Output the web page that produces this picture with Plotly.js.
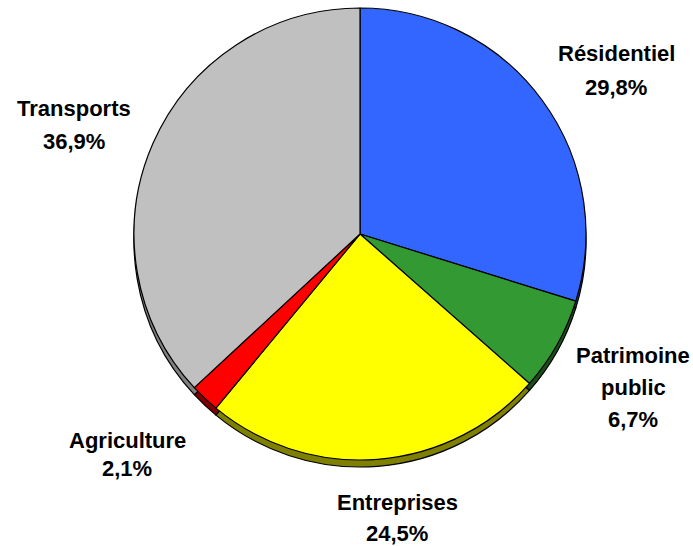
<!DOCTYPE html>
<html>
<head>
<meta charset="utf-8">
<script src="https://cdn.plot.ly/plotly-3.0.1.min.js"></script>
<style>html,body{margin:0;padding:0;background:#fff;}#chart{width:693px;height:546px;}</style>
</head>
<body>
<div id="chart"></div>
<script>
// Data
const categories = ["Résidentiel", "Patrimoine public", "Entreprises", "Agriculture", "Transports"];
const shares = [29.8, 6.7, 24.5, 2.1, 36.9];

// Styles
const faceColors = ["#3366FF", "#339933", "#FFFF00", "#FF0000", "#C0C0C0"];
const sideColors = ["#1A3380", "#1A4D1A", "#808000", "#800000", "#808080"];
// label placement (pixel centre x, cap-centre y of each line)
const labelPlacement = [
  {x: 616, ys: [54, 88]},
  {x: 633, ys: [355, 387, 419]},
  {x: 397, ys: [502, 533]},
  {x: 127, ys: [440, 469]},
  {x: 74, ys: [109, 142]}
];

const W = 693, H = 546;
const cx = 360, cy = 234, R = 226, depth = 7;

function dom(cyPx) {
  return {
    x: [(cx - R) / W, (cx + R) / W],
    y: [1 - (cyPx + R) / H, 1 - (cyPx - R) / H]
  };
}

const common = {
  type: "pie",
  labels: categories,
  values: shares,
  sort: false,
  direction: "clockwise",
  rotation: 0,
  textinfo: "none",
  hoverinfo: "none",
  showlegend: false
};

const side = Object.assign({}, common, {
  domain: dom(cy + depth),
  marker: {colors: sideColors, line: {color: "#000", width: 1.2}}
});
const face = Object.assign({}, common, {
  domain: dom(cy),
  marker: {colors: faceColors, line: {color: "#000", width: 1.2}}
});

function fmt(v) { return v.toFixed(1).replace(".", ",") + "%"; }

const annotations = [];
categories.forEach((name, i) => {
  const lines = name.split(" ").concat([fmt(shares[i])]);
  const p = labelPlacement[i];
  lines.forEach((t, j) => {
    annotations.push({
      xref: "paper", yref: "paper",
      x: p.x / W, y: 1 - p.ys[j] / H,
      xanchor: "center", yanchor: "middle",
      text: "<b>" + t + "</b>",
      showarrow: false,
      borderpad: 0,
      font: {family: "Liberation Sans, Arial, sans-serif", size: 22, color: "#000"}
    });
  });
});

const layout = {
  width: W, height: H,
  margin: {l: 0, r: 0, t: 0, b: 0},
  paper_bgcolor: "#fff",
  plot_bgcolor: "#fff",
  showlegend: false,
  annotations: annotations
};

Plotly.newPlot("chart", [side, face], layout, {displayModeBar: false, staticPlot: true});
</script>
</body>
</html>
